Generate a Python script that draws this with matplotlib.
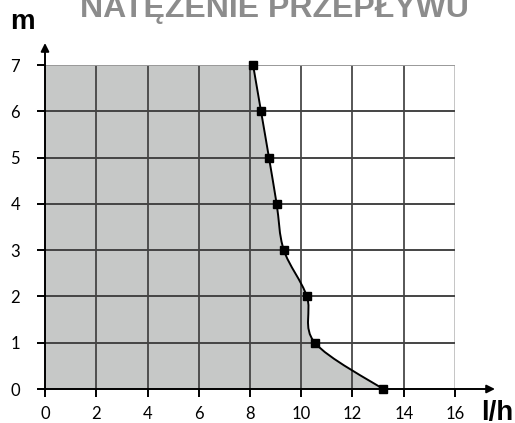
import matplotlib
matplotlib.use('Agg')
from matplotlib import pyplot as plt
from matplotlib.path import Path
from matplotlib.patches import PathPatch

# flow rate [l/h] vs head [m]
flow = [8.12, 8.43, 8.74, 9.04, 9.32, 10.22, 10.53, 13.19]
head = [7, 6, 5, 4, 3, 2, 1, 0]
x_ticks = [0, 2, 4, 6, 8, 10, 12, 14, 16]
y_ticks = [0, 1, 2, 3, 4, 5, 6, 7]

title = 'NATĘŻENIE PRZEPŁYWU'


def smooth_segments(xs, ys):
    # catmull-rom -> cubic bezier control points
    pts = list(zip(xs, ys))
    ext = [pts[0]] + pts + [pts[-1]]
    verts = []
    for i in range(1, len(ext) - 2):
        p0, p1, p2, p3 = ext[i - 1], ext[i], ext[i + 1], ext[i + 2]
        c1 = (p1[0] + (p2[0] - p0[0]) / 6, p1[1] + (p2[1] - p0[1]) / 6)
        c2 = (p2[0] - (p3[0] - p1[0]) / 6, p2[1] - (p3[1] - p1[1]) / 6)
        verts += [c1, c2, p2]
    return verts


fig = plt.figure(figsize=(5.15, 4.23), dpi=100)
ax = fig.add_axes([45 / 515, 34 / 423, 410 / 515, 324 / 423])
ax.set_xlim(0, 16)
ax.set_ylim(0, 7)

curve = smooth_segments(flow, head)
start = (flow[0], head[0])

# grey area left of the curve
fill_verts = [(0, 0), (0, 7), start] + curve + [(0, 0)]
fill_codes = [Path.MOVETO, Path.LINETO, Path.LINETO] + [Path.CURVE4] * len(curve) + [Path.CLOSEPOLY]
ax.add_patch(PathPatch(Path(fill_verts, fill_codes), facecolor='#c6c8c7', edgecolor='none', zorder=1))

# grid
for x in x_ticks[1:]:
    ax.plot([x, x], [0, 7], color='#bbbbbb' if x == 16 else '#3a3a3a', lw=1.2, zorder=2)
for y in y_ticks[1:]:
    ax.plot([0, 16], [y, y], color='#999999' if y == 7 else '#444444', lw=1.4, zorder=2)

line_codes = [Path.MOVETO] + [Path.CURVE4] * len(curve)
ax.add_patch(PathPatch(Path([start] + curve, line_codes), facecolor='none', edgecolor='black', lw=1.4, zorder=3))
ax.plot(flow, head, 's', color='black', ms=5.5, zorder=4, clip_on=False)

for side in ['top', 'right', 'left', 'bottom']:
    ax.spines[side].set_visible(False)

# axes with arrows
arrow = dict(arrowstyle='-|>', color='black', lw=1.4, mutation_scale=12, shrinkA=0, shrinkB=0)
ax.annotate('', xy=(495 / 410 * 1.0 - 45 / 410, 0), xytext=(-0.015, 0),
            xycoords='axes fraction', textcoords='axes fraction', arrowprops=arrow, zorder=5)
ax.annotate('', xy=(0, (389 - 43) / 324), xytext=(0, -0.005),
            xycoords='axes fraction', textcoords='axes fraction', arrowprops=arrow, zorder=5)

ax.set_xticks(x_ticks)
ax.set_yticks(y_ticks)
ax.tick_params(axis='both', length=6, width=1.4, color='black', labelsize=12, pad=6)
ax.tick_params(axis='y', pad=12)
for lab in ax.get_xticklabels() + ax.get_yticklabels():
    lab.set_family('Lato')

fig.text(274 / 515, 1 - 17 / 423, title, ha='center', va='baseline', fontsize=23,
         fontweight='bold', color='#8c8c8c', family='Liberation Sans')
fig.text(22 / 515, 1 - 29 / 423, 'm', ha='center', va='baseline', fontsize=20,
         fontweight='bold', family='Liberation Sans')
fig.text(497 / 515, 1 - 420 / 423, 'l/h', ha='center', va='baseline', fontsize=20,
         fontweight='bold', family='Liberation Sans')

fig.savefig('out.png', dpi=100)
